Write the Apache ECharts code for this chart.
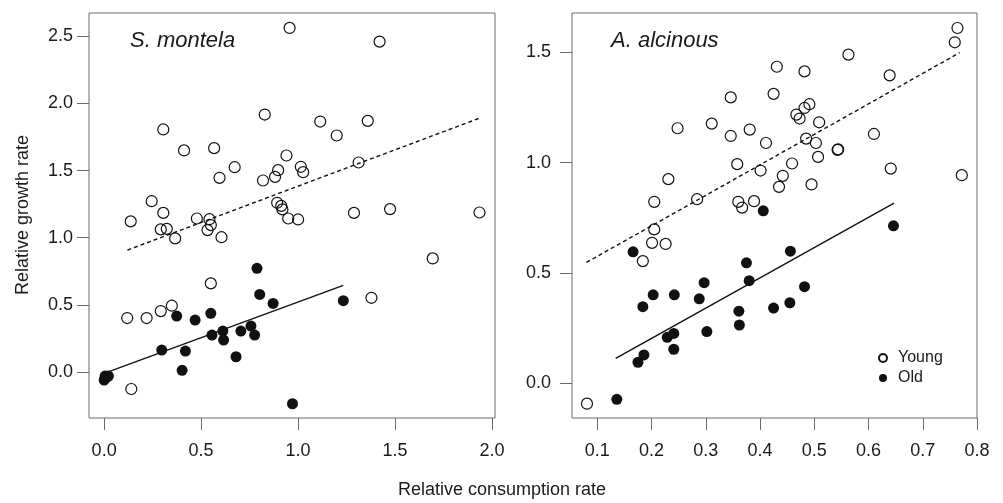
<!DOCTYPE html>
<html>
<head>
<meta charset="utf-8">
<script src="https://cdn.jsdelivr.net/npm/echarts@6/dist/echarts.min.js"></script>
<style>
html, body { margin: 0; padding: 0; background: #fff; }
#canvas { width: 1003px; height: 503px; }
</style>
</head>
<body>
<div id="canvas"></div>
<script>
// S. montela  [consumption, growth]
var montelaYoung = [[0.956,2.562],[1.42,2.46],[0.828,1.917],[0.305,1.806],[1.114,1.865],[1.359,1.87],[1.199,1.761],
    [0.412,1.65],[0.567,1.667],[0.94,1.612],[0.673,1.525],[1.312,1.56],[1.014,1.528],[1.026,1.488],[0.897,1.503],
    [0.595,1.446],[0.881,1.453],[0.819,1.426],[0.245,1.272],[0.892,1.26],[0.913,1.237],[0.919,1.211],[0.305,1.185],
    [1.288,1.185],[1.474,1.213],[1.935,1.188],[0.137,1.122],[0.478,1.143],[0.543,1.138],[0.55,1.094],[0.533,1.057],
    [0.949,1.143],[1.0,1.136],[0.292,1.062],[0.323,1.066],[0.366,0.995],[0.605,1.004],[0.55,0.66],[1.694,0.846],
    [0.119,0.402],[0.219,0.402],[0.292,0.454],[0.349,0.494],[1.378,0.553],[0.14,-0.126]];
var montelaOld = [[0.0,-0.06],[0.005,-0.03],[0.015,-0.035],[0.022,-0.03],[0.374,0.417],[0.469,0.387],[0.55,0.437],
    [0.788,0.772],[0.802,0.578],[0.871,0.511],[0.556,0.275],[0.612,0.305],[0.616,0.238],[0.705,0.305],[0.757,0.342],
    [0.776,0.275],[0.68,0.114],[0.297,0.164],[0.419,0.156],[0.402,0.013],[1.233,0.531],[0.971,-0.236]];
var montelaYoungFit = [[0.12,0.908],[1.935,1.89]];
var montelaOldFit = [[0,-0.01],[1.233,0.645]];

// A. alcinous
var alcinousYoung = [[0.764,1.611],[0.759,1.546],[0.563,1.49],[0.431,1.435],[0.482,1.414],[0.639,1.396],[0.425,1.312],
    [0.346,1.296],[0.491,1.265],[0.482,1.248],[0.467,1.218],[0.473,1.2],[0.509,1.183],[0.311,1.177],[0.248,1.156],
    [0.381,1.15],[0.346,1.121],[0.61,1.13],[0.485,1.109],[0.503,1.089],[0.411,1.089],[0.543,1.058],[0.544,1.06],
    [0.507,1.026],[0.459,0.996],[0.358,0.993],[0.401,0.964],[0.641,0.973],[0.442,0.94],[0.772,0.943],[0.231,0.925],
    [0.495,0.901],[0.435,0.89],[0.284,0.834],[0.205,0.822],[0.36,0.822],[0.389,0.825],[0.367,0.796],[0.205,0.697],
    [0.201,0.636],[0.226,0.631],[0.184,0.553],[0.081,-0.094]];
var alcinousOld = [[0.406,0.781],[0.646,0.713],[0.166,0.595],[0.456,0.598],[0.375,0.545],[0.38,0.464],[0.297,0.455],
    [0.482,0.437],[0.203,0.4],[0.242,0.4],[0.288,0.382],[0.455,0.364],[0.184,0.346],[0.425,0.34],[0.361,0.326],
    [0.362,0.263],[0.302,0.233],[0.241,0.225],[0.229,0.207],[0.241,0.153],[0.186,0.127],[0.175,0.094],[0.136,-0.074]];
var alcinousYoungFit = [[0.08,0.547],[0.768,1.499]];
var alcinousOldFit = [[0.134,0.112],[0.647,0.816]];

var montelaXTicks = [0, 0.5, 1, 1.5, 2];
var montelaYTicks = [0, 0.5, 1, 1.5, 2, 2.5];
var alcinousXTicks = [0.1, 0.2, 0.3, 0.4, 0.5, 0.6, 0.7, 0.8];
var alcinousYTicks = [0, 0.5, 1, 1.5];

var FONT = 'Liberation Sans, Arial, sans-serif';
var INK = '#1a1a1a';
var FRAME = '#6a6a6a';

var axisFor = function(idx, min, max, ticks, margin) {
    return {
        type: 'value', gridIndex: idx, min: min, max: max,
        axisLine: {show: false, onZero: false},
        splitLine: {show: false},
        axisTick: {show: true, inside: false, length: 12, customValues: ticks,
                   lineStyle: {color: FRAME, width: 1}},
        axisLabel: {customValues: ticks, margin: margin, color: INK, fontSize: 18, fontFamily: FONT,
                    formatter: function(v) { return v.toFixed(1); }}
    };
}

var openStyle = {color: 'rgba(255,255,255,0)', borderColor: '#111', borderWidth: 1.2, opacity: 1};
var fillStyle = {color: '#111', borderColor: '#111', borderWidth: 0, opacity: 1};

var scatter = function(name, idx, data, style) {
    return {
        name: name, type: 'scatter', xAxisIndex: idx, yAxisIndex: idx,
        data: data, symbol: 'circle', symbolSize: 11, itemStyle: style,
        emphasis: {disabled: true}, z: 3
    };
}

var fit = function(idx, data, dashed) {
    return {
        type: 'line', xAxisIndex: idx, yAxisIndex: idx, data: data,
        symbol: 'none', silent: true, z: 2,
        lineStyle: {color: '#111', width: 1.4, type: dashed ? [4, 3] : 'solid'}
    };
}

var myChart = echarts.init(document.getElementById('canvas'), null, {renderer: 'canvas'});

var option = {
    animation: false,
    backgroundColor: '#fff',
    grid: [
        {left: 89, top: 13, width: 406, height: 405, show: true, borderColor: FRAME, borderWidth: 1, backgroundColor: 'transparent'},
        {left: 572, top: 13, width: 405, height: 405, show: true, borderColor: FRAME, borderWidth: 1, backgroundColor: 'transparent'}
    ],
    xAxis: [
        axisFor(0, -0.078, 2.015, montelaXTicks, 24),
        axisFor(1, 0.0534, 0.8, alcinousXTicks, 24)
    ],
    yAxis: [
        axisFor(0, -0.342, 2.673, montelaYTicks, 16),
        axisFor(1, -0.159, 1.679, alcinousYTicks, 21)
    ],
    title: [
        {text: 'S. montela', left: 125, top: 25,
         textStyle: {fontFamily: FONT, fontSize: 22, fontStyle: 'italic', fontWeight: 'normal', color: INK}},
        {text: 'A. alcinous', left: 606, top: 25,
         textStyle: {fontFamily: FONT, fontSize: 22, fontStyle: 'italic', fontWeight: 'normal', color: INK}}
    ],
    legend: {
        data: ['Young', 'Old'],
        orient: 'vertical', left: 873, top: 345,
        icon: 'circle', itemWidth: 8, itemHeight: 8, itemGap: 4,
        textStyle: {fontFamily: FONT, fontSize: 16, color: INK, padding: [0, 0, 0, 6]},
        selectedMode: false
    },
    graphic: [
        {type: 'text', x: 23, y: 215, rotation: Math.PI / 2,
         style: {text: 'Relative growth rate', fill: INK, font: '18px ' + FONT, textAlign: 'center', textVerticalAlign: 'middle'}},
        {type: 'text', x: 502, y: 490,
         style: {text: 'Relative consumption rate', fill: INK, font: '18px ' + FONT, textAlign: 'center', textVerticalAlign: 'middle'}}
    ],
    series: [
        scatter('Young', 0, montelaYoung, openStyle),
        scatter('Old', 0, montelaOld, fillStyle),
        fit(0, montelaYoungFit, true),
        fit(0, montelaOldFit, false),
        scatter('Young', 1, alcinousYoung, openStyle),
        scatter('Old', 1, alcinousOld, fillStyle),
        fit(1, alcinousYoungFit, true),
        fit(1, alcinousOldFit, false)
    ]
};
myChart.setOption(option);
</script>
</body>
</html>
